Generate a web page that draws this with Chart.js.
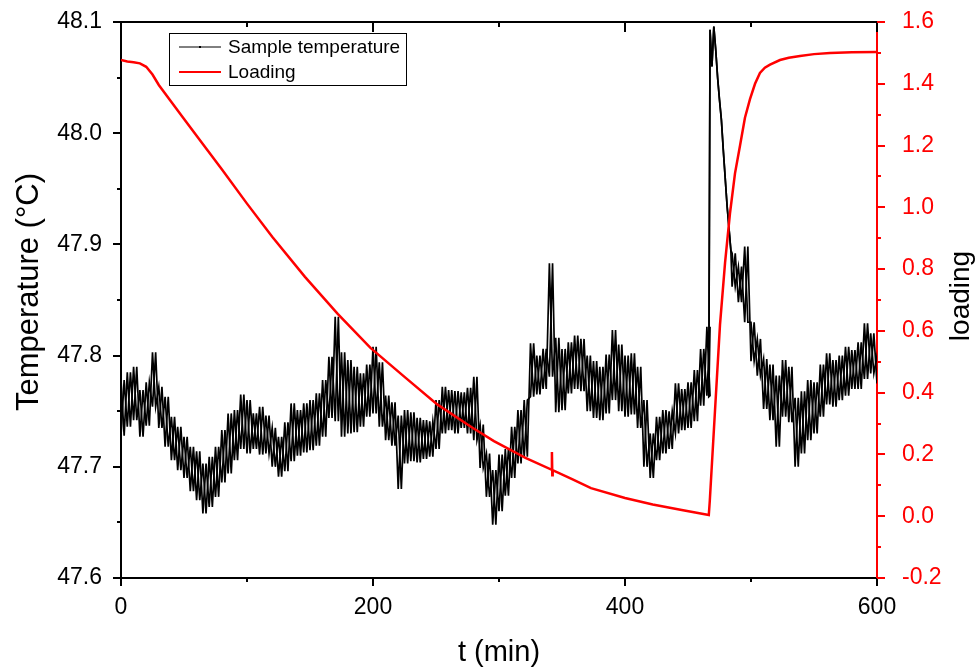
<!DOCTYPE html>
<html>
<head>
<meta charset="utf-8">
<script src="https://cdn.jsdelivr.net/npm/chart.js@4.4.1/dist/chart.umd.min.js"></script>
<style>
  html, body { margin: 0; padding: 0; background: #fff; }
  #wrap { width: 978px; height: 668px; }
</style>
</head>
<body>
<div id="wrap"><canvas id="chart" width="978" height="668"></canvas></div>
<script>
// sample temperature, noisy band: upper / lower envelope read every 5 min
var tempTimesA = [0,5,10,15,20,25,30,35,40,45,50,55,60,65,70,75,80,85,90,95,100,105,110,115,120,125,130,135,140,145,150,155,160,165,170,175,180,185,190,195,200,205,210,215,220,225,230,235,240,245,250,255,260,265,270,275,280,285,290,295,300,305,310,315,320,325,330,335,340,345,350,355,360,365,370,375,380,385,390,395,400,405,410,415,420,425,430,435,440,445,450,455,460,465];
var tempHiA = [47.778,47.785,47.790,47.769,47.776,47.803,47.772,47.763,47.745,47.736,47.727,47.718,47.714,47.703,47.709,47.718,47.733,47.748,47.751,47.765,47.760,47.748,47.754,47.746,47.735,47.727,47.740,47.757,47.751,47.757,47.760,47.766,47.778,47.799,47.835,47.803,47.796,47.790,47.784,47.792,47.808,47.794,47.764,47.758,47.746,47.751,47.749,47.744,47.742,47.741,47.760,47.772,47.769,47.768,47.767,47.771,47.781,47.738,47.712,47.697,47.711,47.716,47.736,47.751,47.760,47.811,47.800,47.806,47.883,47.816,47.806,47.812,47.818,47.815,47.800,47.795,47.790,47.801,47.823,47.810,47.800,47.802,47.790,47.760,47.730,47.745,47.751,47.750,47.775,47.770,47.776,47.787,47.806,47.826];
var tempLoA = [47.728,47.736,47.742,47.727,47.737,47.754,47.735,47.718,47.706,47.697,47.690,47.678,47.670,47.658,47.664,47.673,47.686,47.694,47.706,47.716,47.712,47.716,47.711,47.712,47.700,47.691,47.696,47.705,47.710,47.713,47.715,47.719,47.727,47.744,47.741,47.727,47.730,47.731,47.736,47.745,47.748,47.736,47.724,47.719,47.680,47.703,47.705,47.704,47.707,47.709,47.716,47.730,47.733,47.730,47.735,47.730,47.724,47.699,47.673,47.648,47.660,47.674,47.690,47.703,47.709,47.763,47.765,47.770,47.781,47.749,47.751,47.766,47.770,47.768,47.750,47.744,47.742,47.748,47.760,47.750,47.745,47.747,47.735,47.700,47.690,47.706,47.712,47.716,47.730,47.733,47.735,47.741,47.755,47.764];

// the heating spike (clean, no band)
var spikeTimes = [466.5,467.5,469,470.5,472,473.5,475,476.5,478,479.5,481,482.5,484];
var spikeTemps = [47.763,48.093,48.060,48.096,48.075,48.050,48.030,48.012,47.985,47.960,47.935,47.915,47.895];

// noisy band after the spike
var tempTimesB = [485,490,495,500,505,510,515,520,525,530,535,540,545,550,555,560,565,570,575,580,585,590,595,600];
var tempHiB = [47.892,47.880,47.898,47.830,47.815,47.797,47.792,47.782,47.796,47.790,47.762,47.768,47.778,47.776,47.792,47.802,47.796,47.800,47.808,47.805,47.812,47.829,47.820,47.800];
var tempLoB = [47.862,47.848,47.830,47.795,47.782,47.752,47.742,47.718,47.745,47.740,47.700,47.712,47.724,47.730,47.745,47.756,47.754,47.760,47.764,47.770,47.770,47.779,47.784,47.775];

// loading curve
var loadTimes = [0,5,10,15,20,25,30,40,49,60,80,100,120,146,172,198,225,251,278,296,321,341.5,342,342.3,342.6,358,373,400,422,445,466.5,467.3,471.4,475.4,479.4,483.3,487.3,491.3,495.2,499.2,503.2,507.1,511,515.1,523,530,538.9,550,562.7,580,600];
var loadVals = [1.477,1.472,1.470,1.466,1.455,1.430,1.396,1.341,1.292,1.232,1.123,1.012,0.905,0.775,0.655,0.545,0.451,0.362,0.289,0.243,0.189,0.151,0.208,0.133,0.149,0.120,0.091,0.059,0.038,0.020,0.004,0.050,0.340,0.620,0.820,0.980,1.110,1.200,1.290,1.350,1.400,1.435,1.452,1.462,1.477,1.484,1.490,1.496,1.500,1.502,1.503];

var xTicks = [0, 200, 400, 600];
var tempTicks = [47.6, 47.7, 47.8, 47.9, 48.0, 48.1];
var loadTicks = [-0.2, 0.0, 0.2, 0.4, 0.6, 0.8, 1.0, 1.2, 1.4, 1.6];

var FONT = '"Liberation Sans", Arial, Helvetica, sans-serif';

// envelope values alternate; phase 0 starts high, phase 1 starts low
function zigzag(times, hi, lo, phase) {
    var pts = [];
    for (var i = 0; i < times.length; i++) {
        pts.push({x: times[i], y: phase ? lo[i] : hi[i]});
        pts.push({x: times[i] + 2.5, y: phase ? hi[i] : lo[i]});
    }
    return pts;
}

function tempTrace(phase) {
    var pts = zigzag(tempTimesA, tempHiA, tempLoA, phase);
    for (var i = 0; i < spikeTimes.length; i++) {
        pts.push({x: spikeTimes[i], y: spikeTemps[i]});
    }
    return pts.concat(zigzag(tempTimesB, tempHiB, tempLoB, phase));
}

var loadPoints = loadTimes.map(function(t, i) { return {x: t, y: loadVals[i]}; });

function noLabelPadding(s) {
    s.paddingTop = 0;
    s.paddingBottom = 0;
    s.paddingLeft = 0;
    s.paddingRight = 0;
}

// ticks (major + minor), top frame, boxed legend, side titles
var decor = {
    id: 'decor',
    afterDraw: function(chart) {
        var ctx = chart.ctx;
        var a = chart.chartArea;
        var sx = chart.scales.x, sy = chart.scales.y, sy2 = chart.scales.y2;
        ctx.save();
        ctx.lineWidth = 2;
        ctx.strokeStyle = '#000';
        ctx.beginPath();
        ctx.moveTo(a.left - 1, a.top);
        ctx.lineTo(a.right, a.top);
        ctx.stroke();

        ctx.beginPath();
        for (var v = 0; v <= 600; v += 100) {
            var px = Math.round(sx.getPixelForValue(v));
            var big = v % 200 === 0;
            ctx.moveTo(px, a.bottom);
            ctx.lineTo(px, a.bottom + (big ? 8 : 4));
            ctx.moveTo(px, a.top);
            ctx.lineTo(px, a.top + (big ? 10 : 5));
        }
        for (var k = 0; k <= 10; k++) {
            var py = Math.round(sy.getPixelForValue(47.6 + k * 0.05));
            ctx.moveTo(a.left, py);
            ctx.lineTo(a.left - ((k % 2 === 0) ? 8 : 4), py);
        }
        ctx.stroke();

        ctx.strokeStyle = '#ff0000';
        ctx.beginPath();
        for (var j = 0; j <= 18; j++) {
            var py2 = Math.round(sy2.getPixelForValue(-0.2 + j * 0.1));
            ctx.moveTo(a.right, py2);
            ctx.lineTo(a.right + ((j % 2 === 0) ? 8 : 4), py2);
        }
        ctx.stroke();

        // axis titles on the sides, both read bottom to top
        ctx.fillStyle = '#000';
        ctx.textAlign = 'center';
        ctx.textBaseline = 'middle';
        ctx.save();
        ctx.translate(29, 292);
        ctx.rotate(-Math.PI / 2);
        ctx.font = '31px ' + FONT;
        ctx.fillText('Temperature (°C)', 0, 0);
        ctx.restore();
        ctx.save();
        ctx.translate(961, 296);
        ctx.rotate(-Math.PI / 2);
        ctx.font = '28px ' + FONT;
        ctx.fillText('loading', 0, 0);
        ctx.restore();

        // legend
        ctx.textAlign = 'left';
        ctx.lineWidth = 1;
        ctx.strokeStyle = '#000';
        ctx.strokeRect(169.5, 33.5, 237, 52);
        var items = chart.data.datasets.filter(function(d) { return !d.extra; });
        ctx.font = '19px ' + FONT;
        for (var n = 0; n < items.length; n++) {
            var yy = 47 + n * 25;
            ctx.strokeStyle = items[n].borderColor;
            ctx.lineWidth = n === 0 ? 1 : 2;
            ctx.beginPath();
            ctx.moveTo(179, yy);
            ctx.lineTo(221, yy);
            ctx.stroke();
            ctx.fillStyle = '#000';
            if (n === 0) ctx.fillRect(199, yy - 1, 2, 2);
            ctx.fillText(items[n].label, 228, yy + 1);
        }
        ctx.restore();
    }
};

var ctx = document.getElementById('chart');
var chart = new Chart(ctx, {
    type: 'line',
    data: {
        datasets: [{
            label: 'Sample temperature',
            data: tempTrace(0),
            yAxisID: 'y',
            borderColor: '#000000',
            borderWidth: 1.7,
            pointRadius: 0,
            tension: 0,
            order: 1
        },
        {
            label: 'Loading',
            data: loadPoints,
            yAxisID: 'y2',
            borderColor: '#ff0000',
            borderWidth: 2.5,
            pointRadius: 0,
            tension: 0,
            order: 0
        },
        {
            label: 'Sample temperature (second pass)',
            extra: true,
            data: tempTrace(1),
            yAxisID: 'y',
            borderColor: '#000000',
            borderWidth: 1.7,
            pointRadius: 0,
            tension: 0,
            order: 1
        }]
    },
    options: {
        responsive: false,
        animation: false,
        devicePixelRatio: 1,
        layout: { padding: { top: 22, left: 0, right: 0, bottom: 0 } },
        plugins: {
            legend: { display: false },
            tooltip: { enabled: false }
        },
        scales: {
            x: {
                type: 'linear',
                min: 0,
                max: 600,
                afterFit: function(s) { s.height = 90; noLabelPadding(s); },
                afterBuildTicks: function(s) { s.ticks = xTicks.map(function(v) { return {value: v}; }); },
                grid: { display: false },
                border: { display: true, color: '#000', width: 2 },
                ticks: {
                    color: '#000',
                    padding: 8,
                    font: { family: FONT, size: 23 },
                    callback: function(v) { return String(v); }
                },
                title: {
                    display: true,
                    text: 't (min)',
                    color: '#000',
                    font: { family: FONT, size: 29, lineHeight: 1 },
                    padding: { top: 0, bottom: 1 }
                }
            },
            y: {
                position: 'left',
                min: 47.6,
                max: 48.1,
                afterFit: function(s) { s.width = 121; noLabelPadding(s); },
                afterBuildTicks: function(s) { s.ticks = tempTicks.map(function(v) { return {value: v}; }); },
                grid: { display: false },
                border: { display: true, color: '#000', width: 2 },
                ticks: {
                    color: '#000',
                    padding: 11,
                    font: { family: FONT, size: 23 },
                    callback: function(v) { return v.toFixed(1); }
                }
            },
            y2: {
                position: 'right',
                min: -0.2,
                max: 1.6,
                afterFit: function(s) { s.width = 101; noLabelPadding(s); },
                afterBuildTicks: function(s) { s.ticks = loadTicks.map(function(v) { return {value: v}; }); },
                grid: { display: false },
                border: { display: true, color: '#ff0000', width: 2 },
                ticks: {
                    color: '#ff0000',
                    padding: 17,
                    font: { family: FONT, size: 23 },
                    callback: function(v) { return v.toFixed(1); }
                }
            }
        }
    },
    plugins: [decor]
});
</script>
</body>
</html>
